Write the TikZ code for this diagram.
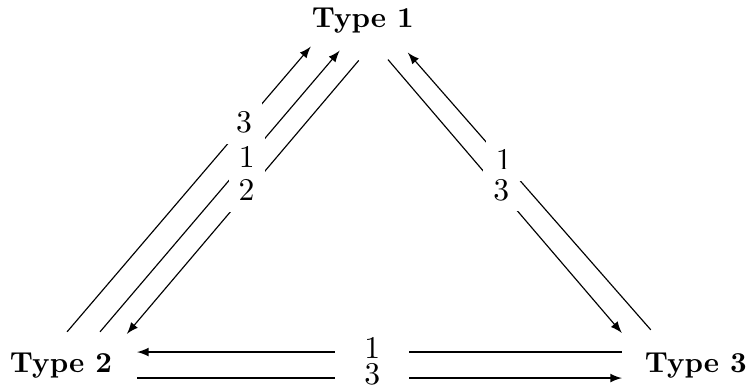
\documentclass[tikz,border=0pt]{standalone}
\usepackage{tikz}
\usetikzlibrary{arrows}
\tikzstyle{typebox} = [font=\bfseries, inner sep=3.33pt]
\tikzstyle{arrow} = [->,>=latex]
\tikzstyle{lbl} = [fill=white, font=\fontsize{10.8}{12}\selectfont, inner xsep=3.5pt, inner ysep=3.8pt, yshift=0.8pt]
\tikzstyle{lblwide} = [lbl, inner xsep=10pt, inner ysep=1pt, yshift=0.5pt]

\begin{document}
\begin{tikzpicture}
\useasboundingbox (-0.742,-0.243) rectangle (8.33,4.45);
\node (type2) [typebox] at (0,0) {Type 2};
\node (type3) [typebox] at (7.72,0) {Type 3};
\node (type1) [typebox] at (3.67,4.20) {Type 1};
% type 2 -- type 1
\draw[arrow] ([xshift=2.1pt,yshift=11.8pt]type2.center) -- coordinate[pos=0.726] (ltwo3) ([xshift=-18pt,yshift=-9pt]type1.center);
\draw[arrow] ([xshift=13.5pt,yshift=11.8pt]type2.center) -- coordinate[pos=0.612] (ltwo1) ([xshift=-8pt,yshift=-10.4pt]type1.center);
\draw[arrow] ([xshift=-1.4pt,yshift=-13.8pt]type1.center) -- coordinate[pos=0.4835] (ltwo2) ([xshift=22.8pt,yshift=11.1pt]type2.center);
% type 3 -- type 1
\draw[arrow] ([xshift=-15.6pt,yshift=12.5pt]type3.center) -- coordinate[pos=0.605] (lthree1) ([xshift=15.6pt,yshift=-11.1pt]type1.center);
\draw[arrow] ([xshift=8.7pt,yshift=-13.5pt]type1.center) -- coordinate[pos=0.485] (lthree3) ([xshift=-25.6pt,yshift=11.4pt]type3.center);
% type 2 -- type 3
\draw[arrow] ([xshift=-25.6pt,yshift=4.8pt]type3.center) -- coordinate[pos=0.515] (lbot1) ([xshift=26.3pt,yshift=4.8pt]type2.center);
\draw[arrow] ([xshift=26.3pt,yshift=-4.2pt]type2.center) -- coordinate[pos=0.485] (lbot3) ([xshift=-25.6pt,yshift=-4.2pt]type3.center);
% labels go on top of the lines
\foreach \c/\t in {ltwo3/3, ltwo1/1, ltwo2/2, lthree1/1, lthree3/3}
  \node[lbl] at (\c) {$\t$};
\foreach \c/\t in {lbot1/1, lbot3/3}
  \node[lblwide] at (\c) {$\t$};
\end{tikzpicture}
\end{document}
